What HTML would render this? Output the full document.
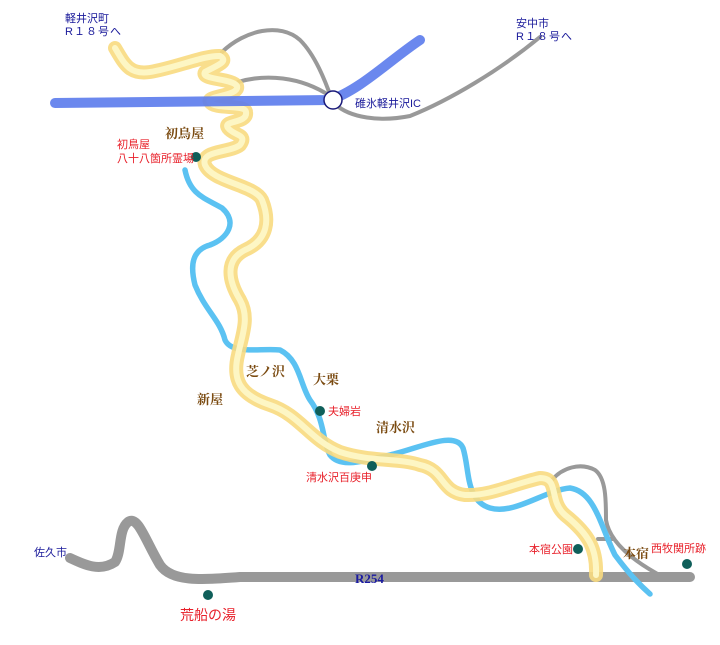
<!DOCTYPE html>
<html><head><meta charset="utf-8"><style>
body{margin:0;background:#fff}
svg text{font-family:"Liberation Sans","Noto Sans CJK JP",sans-serif}
.b{fill:#7a4a10;font-family:"Noto Serif CJK SC","Liberation Serif",serif !important;font-size:13px;font-weight:bold}
.r{fill:#e8202a;font-size:11px}
.n{fill:#1a1a9a;font-size:11px}
</style></head><body>
<svg width="720" height="640" viewBox="0 0 720 640" xmlns="http://www.w3.org/2000/svg" fill="none" stroke-linecap="round" stroke-linejoin="round">
<!-- gray roads -->
<g stroke="#999" stroke-width="4">
<path d="M222,52 C245,30 280,22 300,40 C315,55 325,80 332,100"/>
<path d="M238,82 C265,74 300,76 330,96"/>
<path d="M335,104 C350,118 380,122 410,116 C450,100 500,70 540,37"/>
<path d="M552,480 C562,468 580,462 595,470 C606,478 606,500 606,520 C610,545 640,565 665,578"/>
<path d="M598,539 L614,539"/>
</g>
<path d="M70,558 C85,565 100,572 115,562 C122,552 118,530 128,522 C138,515 145,540 160,565 C172,582 200,580 240,577 L690,577" stroke="#999" stroke-width="10"/>
<!-- river -->
<path d="M185,170 C190,195 205,198 222,208 C238,222 228,238 210,245 C192,250 190,265 195,285 C205,310 220,320 225,340 C232,355 260,348 280,350 C300,360 300,385 310,400 C325,420 322,440 330,455 C340,468 360,462 390,455 C420,448 455,430 463,448 C470,470 465,500 490,508 C515,515 545,490 570,488 C595,492 600,525 615,555 C630,575 640,585 650,594" stroke="#5bc2f2" stroke-width="5.5"/>
<!-- trail -->
<path d="M115,48 C125,65 130,75 150,72 C175,68 205,55 220,56 C230,62 215,66 205,72 C200,80 232,78 237,86 C240,96 205,96 210,102 C215,110 245,104 246,112 C248,124 222,120 228,128 C234,136 248,134 240,145 C230,153 200,150 205,165 C212,182 255,185 262,200 C270,220 268,240 245,250 C225,260 228,280 240,300 C250,318 242,335 238,355 C232,380 240,395 270,405 C300,415 310,440 340,452 C370,462 400,458 420,465 C445,470 440,492 465,495 C490,496 510,485 540,478 C560,478 548,500 565,515 C590,535 597,550 596,575" stroke="#f8da80" stroke-width="14" opacity="0.9"/>
<path d="M115,48 C125,65 130,75 150,72 C175,68 205,55 220,56 C230,62 215,66 205,72 C200,80 232,78 237,86 C240,96 205,96 210,102 C215,110 245,104 246,112 C248,124 222,120 228,128 C234,136 248,134 240,145 C230,153 200,150 205,165 C212,182 255,185 262,200 C270,220 268,240 245,250 C225,260 228,280 240,300 C250,318 242,335 238,355 C232,380 240,395 270,405 C300,415 310,440 340,452 C370,462 400,458 420,465 C445,470 440,492 465,495 C490,496 510,485 540,478 C560,478 548,500 565,515 C590,535 597,550 596,575" stroke="#fdf6c4" stroke-width="6"/>
<!-- highway -->
<path d="M55,103 L330,100 C360,90 390,60 420,40" stroke="#5b7bec" stroke-width="10" opacity="0.9"/>
<!-- IC -->
<circle cx="333" cy="100" r="9" fill="#fff" stroke="#1a1a7a" stroke-width="1.5"/>
<!-- dots -->
<g fill="#0f5f5a">
<circle cx="196" cy="157" r="5"/><circle cx="320" cy="411" r="5"/><circle cx="372" cy="466" r="5"/>
<circle cx="578" cy="549" r="5"/><circle cx="687" cy="564" r="5"/><circle cx="208" cy="595" r="5"/>
</g>
<!-- labels -->
<g stroke="none">
<text class="n" x="65" y="22">軽井沢町</text>
<text class="n" x="65" y="35" letter-spacing="1">R１８号へ</text>
<text class="n" x="516" y="27">安中市</text>
<text class="n" x="516" y="40" letter-spacing="1">R１８号へ</text>
<text class="n" x="355" y="107">碓氷軽井沢IC</text>
<text class="n" x="34" y="556">佐久市</text>
<text x="355" y="583" fill="#1a1aa0" font-size="13" font-weight="bold" style="font-family:'Liberation Serif',serif">R254</text>
<text class="b" x="165" y="138">初鳥屋</text>
<text class="r" x="117" y="148">初鳥屋</text>
<text class="r" x="117" y="162">八十八箇所霊場</text>
<text class="b" x="246" y="376">芝ノ沢</text>
<text class="b" x="313" y="384">大栗</text>
<text class="b" x="197" y="404">新屋</text>
<text class="b" x="376" y="432">清水沢</text>
<text class="r" x="328" y="415">夫婦岩</text>
<text class="r" x="306" y="481">清水沢百庚申</text>
<text class="r" x="529" y="553">本宿公園</text>
<text class="b" x="623" y="558" font-size="14">本宿</text>
<text class="r" x="651" y="552">西牧関所跡</text>
<text x="180" y="620" fill="#e8202a" font-size="14">荒船の湯</text>
</g>
</svg>
</body></html>
